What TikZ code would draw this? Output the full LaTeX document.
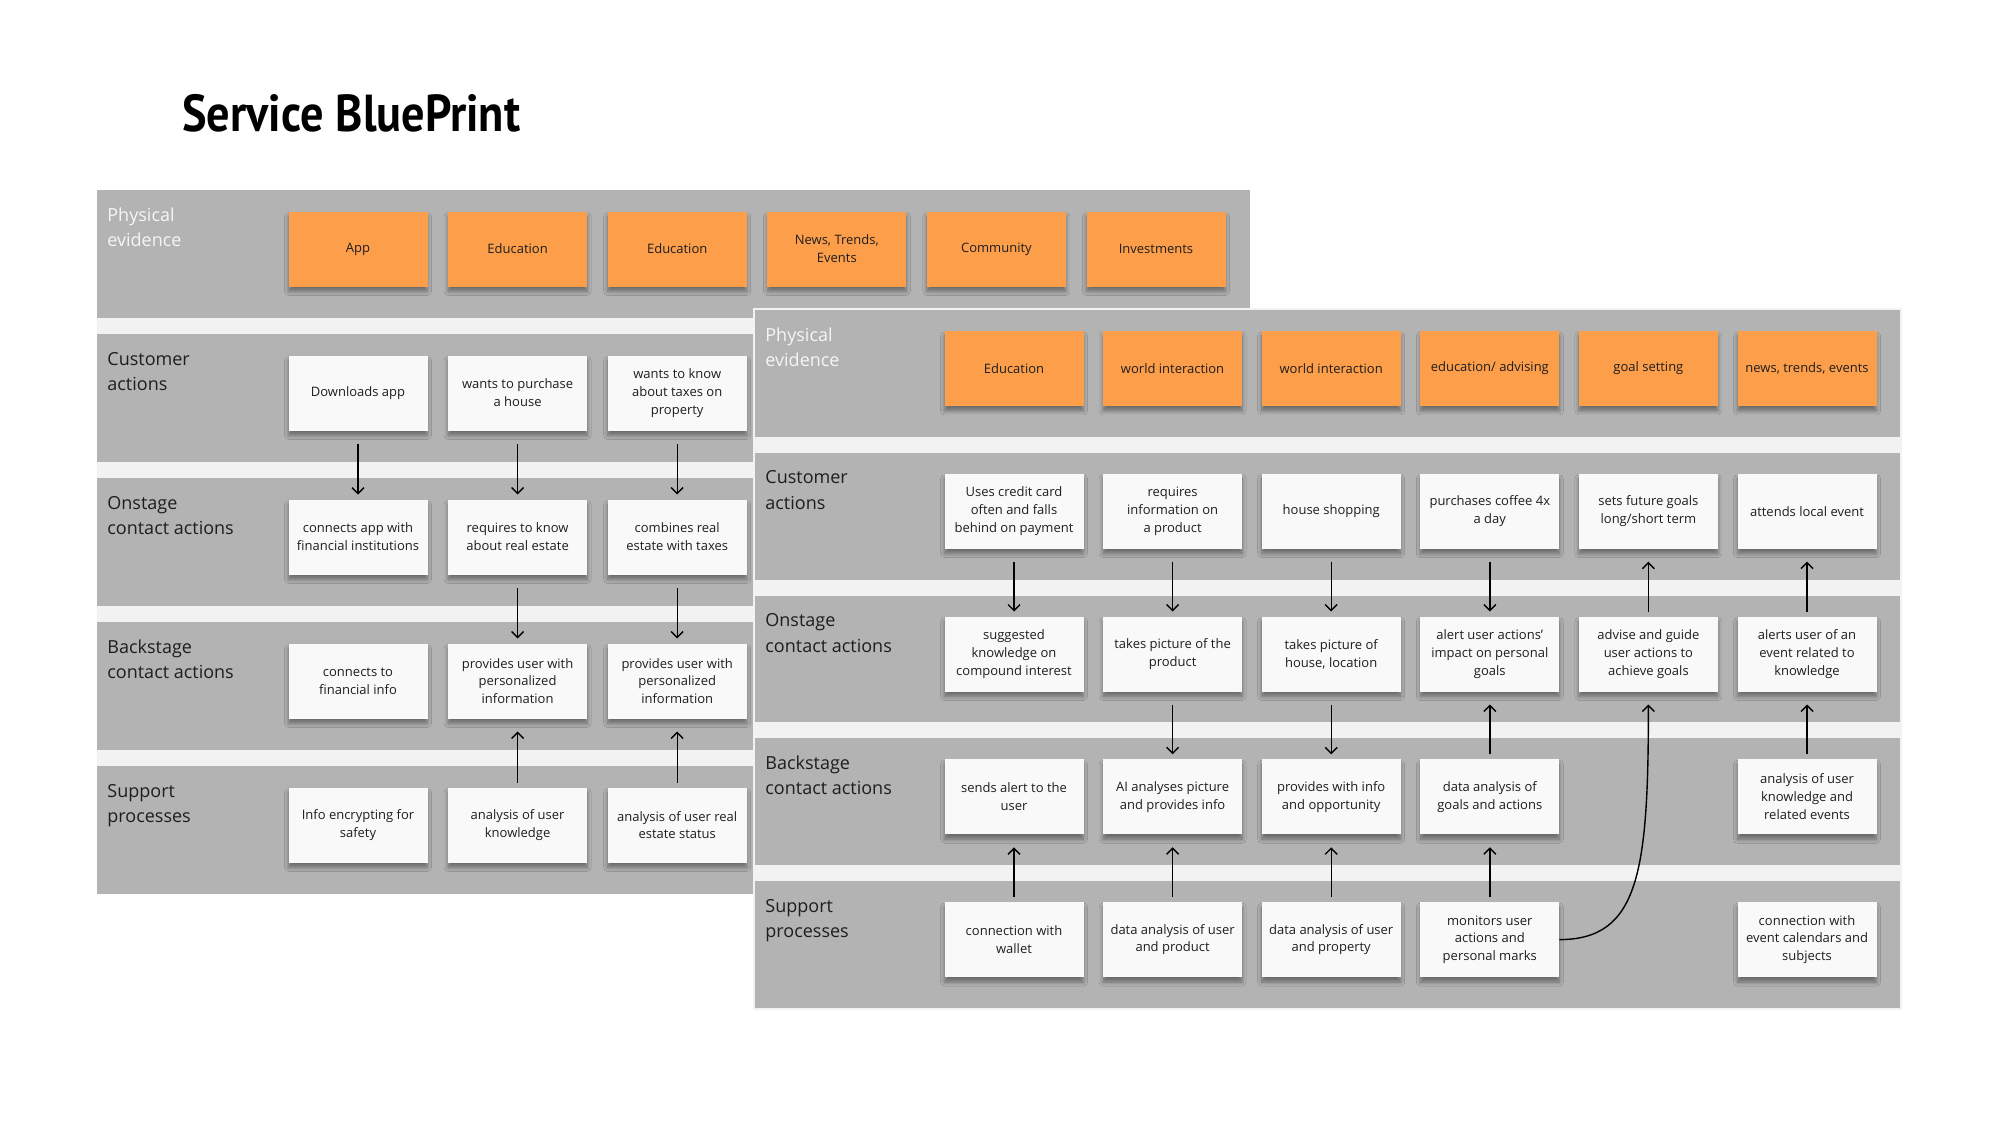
\documentclass[tikz,border=0pt]{standalone}
\usepackage{fontspec}
\setmainfont{Open Sans}
\newfontfamily\titlefont[FakeStretch=0.89]{PT Sans}
\usetikzlibrary{arrows.meta, positioning, shadows.blur}
\definecolor{bpgray}{RGB}{179,179,179}
\definecolor{bpgap}{RGB}{242,242,242}
\definecolor{bporange}{RGB}{253,158,74}
\definecolor{bpcard}{RGB}{249,249,249}
\definecolor{bpink}{RGB}{30,30,30}
\definecolor{bplight}{RGB}{245,245,245}

\begin{document}
\begin{tikzpicture}[x=1pt, y=-1pt,
    band/.style={fill=bpgray},
    rowlabel/.style={anchor=base west, inner sep=0pt, align=left, font=\fontsize{9}{12.75}\selectfont, text=bpink},
    pelabel/.style={rowlabel, text=bplight},
    postit/.style={rectangle, minimum width=69.5pt, minimum height=37.5pt, inner sep=1pt, outer sep=0pt, align=center,
      font=\fontsize{6.5}{8.9}\selectfont, text=bpink,
      blur shadow={shadow xshift=0pt, shadow yshift=-2.5pt, shadow blur radius=2pt, shadow blur steps=6, shadow opacity=40}},
    pecard/.style={postit, fill=bporange},
    actcard/.style={postit, fill=bpcard},
    flowdn/.style={-{Straight Barb[length=3pt,width=6pt]}, line width=0.7pt, shorten <=6.5pt, shorten >=2.5pt},
    flowup/.style={-{Straight Barb[length=3pt,width=6pt]}, line width=0.7pt, shorten <=2.5pt, shorten >=6.5pt}]
  \useasboundingbox (0,0) rectangle (999.5,562);

  \node[anchor=base west, inner sep=0pt, font=\titlefont\bfseries\fontsize{26}{30}\selectfont] (title) at (91,65.5) {Service BluePrint};

  % back sheet
  \fill[bpgap] (48.5,95) rectangle (625,447);
  \fill[band] (48.5,95) rectangle (625,159);
  \fill[band] (48.5,167) rectangle (625,231);
  \fill[band] (48.5,239) rectangle (625,303);
  \fill[band] (48.5,311) rectangle (625,375);
  \fill[band] (48.5,383) rectangle (625,447);

  \node[pelabel] (lpel) at (53.5,123.25) {Physical\\evidence};
  \node[rowlabel] (lcal) at (53.5,195.25) {Customer\\actions};
  \node[rowlabel] (lonl) at (53.5,267.25) {Onstage\\contact actions};
  \node[rowlabel] (lbkl) at (53.5,339.25) {Backstage\\contact actions};
  \node[rowlabel] (lspl) at (53.5,411.25) {Support\\processes};

  \node[pecard] (lpe1) at (179,124.5) {App};
  \node[pecard, right=10.3pt of lpe1] (lpe2) {Education};
  \node[pecard, right=10.3pt of lpe2] (lpe3) {Education};
  \node[pecard, right=10.3pt of lpe3] (lpe4) {News, Trends,\\Events};
  \node[pecard, right=10.3pt of lpe4] (lpe5) {Community};
  \node[pecard, right=10.3pt of lpe5] (lpe6) {Investments};

  \node[actcard] (lca1) at (179,196.5) {Downloads app};
  \node[actcard, right=10.3pt of lca1] (lca2) {wants to purchase\\a house};
  \node[actcard, right=10.3pt of lca2] (lca3) {wants to know\\about taxes on\\property};

  \node[actcard] (lon1) at (179,268.5) {connects app with\\financial institutions};
  \node[actcard, right=10.3pt of lon1] (lon2) {requires to know\\about real estate};
  \node[actcard, right=10.3pt of lon2] (lon3) {combines real\\estate with taxes};

  \node[actcard] (lbk1) at (179,340.5) {connects to\\financial info};
  \node[actcard, right=10.3pt of lbk1] (lbk2) {provides user with\\personalized\\information};
  \node[actcard, right=10.3pt of lbk2] (lbk3) {provides user with\\personalized\\information};

  \node[actcard] (lsp1) at (179,412.5) {Info encrypting for\\safety};
  \node[actcard, right=10.3pt of lsp1] (lsp2) {analysis of user\\knowledge};
  \node[actcard, right=10.3pt of lsp2] (lsp3) {analysis of user real\\estate status};

  \draw[flowdn] (lca1.south) -- (lon1.north);
  \draw[flowdn] (lca2.south) -- (lon2.north);
  \draw[flowdn] (lca3.south) -- (lon3.north);
  \draw[flowdn] (lon2.south) -- (lbk2.north);
  \draw[flowdn] (lon3.south) -- (lbk3.north);
  \draw[flowup] (lsp2.north) -- (lbk2.south);
  \draw[flowup] (lsp3.north) -- (lbk3.south);

  % front sheet
  \fill[bpgap] (376.5,154) rectangle (951,505);
  \fill[band] (377.5,155) rectangle (950,218.4);
  \fill[band] (377.5,226.4) rectangle (950,289.8);
  \fill[band] (377.5,297.8) rectangle (950,361.2);
  \fill[band] (377.5,369.2) rectangle (950,432.6);
  \fill[band] (377.5,440.6) rectangle (950,504);

  \node[pelabel] (rpel) at (382.5,183.25) {Physical\\evidence};
  \node[rowlabel] (rcal) at (382.5,254.65) {Customer\\actions};
  \node[rowlabel] (ronl) at (382.5,326.05) {Onstage\\contact actions};
  \node[rowlabel] (rbkl) at (382.5,397.45) {Backstage\\contact actions};
  \node[rowlabel] (rspl) at (382.5,468.85) {Support\\processes};

  \node[pecard] (rpe1) at (507,184.2) {Education};
  \node[pecard, right=9.8pt of rpe1] (rpe2) {world interaction};
  \node[pecard, right=9.8pt of rpe2] (rpe3) {world interaction};
  \node[pecard, right=9.8pt of rpe3] (rpe4) {education/ advising};
  \node[pecard, right=9.8pt of rpe4] (rpe5) {goal setting};
  \node[pecard, right=9.8pt of rpe5] (rpe6) {news, trends, events};

  \node[actcard] (rca1) at (507,255.6) {Uses credit card\\often and falls\\behind on payment};
  \node[actcard, right=9.8pt of rca1] (rca2) {requires\\information on\\a product};
  \node[actcard, right=9.8pt of rca2] (rca3) {house shopping};
  \node[actcard, right=9.8pt of rca3] (rca4) {purchases coffee 4x\\a day};
  \node[actcard, right=9.8pt of rca4] (rca5) {sets future goals\\long/short term};
  \node[actcard, right=9.8pt of rca5] (rca6) {attends local event};

  \node[actcard] (ron1) at (507,327) {suggested\\knowledge on\\compound interest};
  \node[actcard, right=9.8pt of ron1] (ron2) {takes picture of the\\product};
  \node[actcard, right=9.8pt of ron2] (ron3) {takes picture of\\house, location};
  \node[actcard, right=9.8pt of ron3] (ron4) {alert user actions'\\impact on personal\\goals};
  \node[actcard, right=9.8pt of ron4] (ron5) {advise and guide\\user actions to\\achieve goals};
  \node[actcard, right=9.8pt of ron5] (ron6) {alerts user of an\\event related to\\knowledge};

  \node[actcard] (rbk1) at (507,398.4) {sends alert to the\\user};
  \node[actcard, right=9.8pt of rbk1] (rbk2) {AI analyses picture\\and provides info};
  \node[actcard, right=9.8pt of rbk2] (rbk3) {provides with info\\and opportunity};
  \node[actcard, right=9.8pt of rbk3] (rbk4) {data analysis of\\goals and actions};
  \node[actcard, right=89.1pt of rbk4] (rbk6) {analysis of user\\knowledge and\\related events};

  \node[actcard] (rsp1) at (507,469.8) {connection with\\wallet};
  \node[actcard, right=9.8pt of rsp1] (rsp2) {data analysis of user\\and product};
  \node[actcard, right=9.8pt of rsp2] (rsp3) {data analysis of user\\and property};
  \node[actcard, right=9.8pt of rsp3] (rsp4) {monitors user\\actions and\\personal marks};
  \node[actcard, right=89.1pt of rsp4] (rsp6) {connection with\\event calendars and\\subjects};

  \draw[flowdn] (rca1.south) -- (ron1.north);
  \draw[flowdn] (rca2.south) -- (ron2.north);
  \draw[flowdn] (rca3.south) -- (ron3.north);
  \draw[flowdn] (rca4.south) -- (ron4.north);
  \draw[flowup] (ron5.north) -- (rca5.south);
  \draw[flowup] (ron6.north) -- (rca6.south);
  \draw[flowdn] (ron2.south) -- (rbk2.north);
  \draw[flowdn] (ron3.south) -- (rbk3.north);
  \draw[flowup] (rbk4.north) -- (ron4.south);
  \draw[flowup] (rbk6.north) -- (ron6.south);
  \draw[flowup] (rsp1.north) -- (rbk1.south);
  \draw[flowup] (rsp2.north) -- (rbk2.south);
  \draw[flowup] (rsp3.north) -- (rbk3.south);
  \draw[flowup] (rsp4.north) -- (rbk4.south);
  \draw[flowup, shorten <=0pt] (rsp4.east) .. controls +(40,0) and +(0,90) .. (ron5.south);
\end{tikzpicture}
\end{document}
